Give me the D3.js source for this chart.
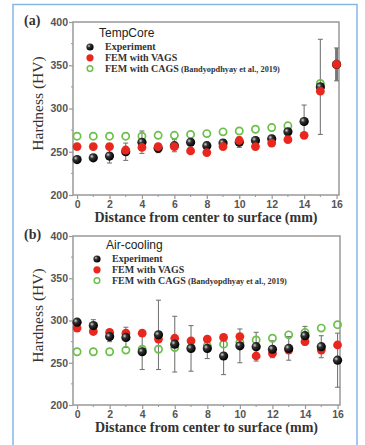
<!DOCTYPE html>
<html>
<head>
<meta charset="utf-8">
<script src="https://cdn.jsdelivr.net/npm/d3@7"></script>
<style>
  body { margin: 0; background: #fff; }
  svg { display: block; }
</style>
</head>
<body>
<svg id="chart" width="365" height="445"></svg>
<script>
// distance from center (mm)
const distance = [0, 1, 2, 3, 4, 5, 6, 7, 8, 9, 10, 11, 12, 13, 14, 15, 16];
const yTicks = [200, 250, 300, 350, 400];
const xTicks = [0, 2, 4, 6, 8, 10, 12, 14, 16];

// (a) TempCore
const tcExperiment = [241, 243, 245, 250, 261, 254, 257, 261, 257, 260, 261, 263, 265, 273, 285, 325, 351];
const tcExpError = [2, 2, 8, 10, 13, 5, 7, 4, 4, 4, 6, 4, 4, 4, 19, 55, 19];
const tcVags = [256, 256, 256, 252, 255, 256, 256, 251, 249, 256, 263, 256, 260, 264, 269, 320, 351];
const tcCags = [268, 268, 268, 268, 268, 269, 269, 270, 271, 273, 274, 276, 278, 280, 285, 329, 351];

// (b) Air-cooling
const acExperiment = [298, 294, 281, 280, 263, 283, 272, 267, 267, 258, 270, 269, 266, 267, 282, 269, 253];
const acExpError = [3, 7, 6, 12, 21, 41, 33, 27, 12, 22, 20, 17, 10, 14, 11, 13, 32];
const acVags = [291, 287, 286, 285, 285, 278, 279, 276, 278, 280, 281, 258, 261, 265, 275, 265, 271];
const acCags = [263, 263, 263, 265, 266, 266, 268, 268, 270, 272, 274, 277, 279, 283, 286, 291, 295];

const legendLabels = ['Experiment', 'FEM with VAGS', 'FEM with CAGS'];

const svg = d3.select('#chart');

// outer frame
svg.append('rect')
  .attr('x', 13).attr('y', 4.5)
  .attr('width', 344).attr('height', 460)
  .attr('fill', 'none')
  .attr('stroke', '#86b6e4')
  .attr('stroke-width', 1.5);

const defs = svg.append('defs');
const grad = defs.append('radialGradient')
  .attr('id', 'ball')
  .attr('cx', '35%').attr('cy', '35%').attr('r', '65%');
grad.append('stop').attr('offset', '0%').attr('stop-color', '#d8d8d8');
grad.append('stop').attr('offset', '35%').attr('stop-color', '#333');
grad.append('stop').attr('offset', '100%').attr('stop-color', '#000');

function drawPanel(opt) {
  const x = d3.scaleLinear().domain([-0.25, 16.15]).range([opt.left, opt.right]);
  const y = d3.scaleLinear().domain([200, 400]).range([opt.bottom, opt.top]);
  const g = svg.append('g');

  // minor ticks
  const minorX = d3.range(1, 17, 2);
  const minorY = [225, 275, 325, 375];
  g.selectAll('.mx').data(minorX).enter().append('line')
    .attr('x1', d => x(d)).attr('x2', d => x(d))
    .attr('y1', opt.bottom).attr('y2', opt.bottom + 2)
    .attr('stroke', '#999').attr('stroke-width', 1);
  g.selectAll('.my').data(minorY).enter().append('line')
    .attr('x1', opt.left).attr('x2', opt.left - 2)
    .attr('y1', d => y(d)).attr('y2', d => y(d))
    .attr('stroke', '#999').attr('stroke-width', 1);

  const xAxis = d3.axisBottom(x).tickValues(xTicks).tickSize(4).tickSizeOuter(0).tickPadding(2);
  const yAxis = d3.axisLeft(y).tickValues(yTicks).tickSize(4).tickSizeOuter(0).tickPadding(1);

  const gx = g.append('g').attr('transform', `translate(0,${opt.bottom})`).call(xAxis);
  const gy = g.append('g').attr('transform', `translate(${opt.left},0)`).call(yAxis);
  [gx, gy].forEach(a => {
    a.select('.domain').remove();
    a.selectAll('line').attr('stroke', '#999').attr('stroke-width', 1.2);
    a.selectAll('text')
      .attr('fill', '#555')
      .style('font-family', 'Arial, "Liberation Sans", sans-serif')
      .style('font-weight', 'bold')
      .style('font-size', '10.5px');
  });

  // plot frame
  g.append('rect')
    .attr('x', opt.left).attr('y', opt.top)
    .attr('width', opt.right - opt.left).attr('height', opt.bottom - opt.top)
    .attr('fill', 'none').attr('stroke', '#999').attr('stroke-width', 1.5);

  // error bars
  const eb = g.append('g');
  distance.forEach((d, i) => {
    const v = opt.exp[i], e = opt.err[i];
    eb.append('line')
      .attr('x1', x(d)).attr('x2', x(d))
      .attr('y1', y(v - e)).attr('y2', y(v + e))
      .attr('stroke', '#777').attr('stroke-width', opt.thick && i === 16 ? 3 : 1.1);
    [v - e, v + e].forEach(c => {
      eb.append('line')
        .attr('x1', x(d) - 2.5).attr('x2', x(d) + 2.5)
        .attr('y1', y(c)).attr('y2', y(c))
        .attr('stroke', '#777').attr('stroke-width', 1.1);
    });
  });

  // CAGS open circles
  g.selectAll('.cags').data(distance).enter().append('circle')
    .attr('cx', d => x(d)).attr('cy', (d, i) => y(opt.cags[i]))
    .attr('r', 3.6).attr('fill', 'none')
    .attr('stroke', '#6cbf4a').attr('stroke-width', 1.7);

  const drawExp = () => g.selectAll('.exp').data(distance).enter().append('circle')
    .attr('cx', d => x(d)).attr('cy', (d, i) => y(opt.exp[i]))
    .attr('r', 4.6).attr('fill', 'url(#ball)');
  const drawVags = () => g.selectAll('.vags').data(distance).enter().append('circle')
    .attr('cx', d => x(d)).attr('cy', (d, i) => y(opt.vags[i]))
    .attr('r', 4.4).attr('fill', '#e8281f');

  if (opt.redOnTop) { drawExp(); drawVags(); } else { drawVags(); drawExp(); }

  // legend
  const lg = g.append('g');
  lg.append('text')
    .attr('x', opt.leg.x + 9).attr('y', opt.leg.y)
    .attr('fill', '#222')
    .style('font-family', 'Arial, "Liberation Sans", sans-serif')
    .style('font-size', '12px')
    .text(opt.title);
  legendLabels.forEach((lab, i) => {
    const ly = opt.leg.y + 13 + i * 10.8;
    if (i === 0) lg.append('circle').attr('cx', opt.leg.x).attr('cy', ly - 3).attr('r', 3.6).attr('fill', 'url(#ball)');
    if (i === 1) lg.append('circle').attr('cx', opt.leg.x).attr('cy', ly - 3).attr('r', 3.6).attr('fill', '#e8281f');
    if (i === 2) lg.append('circle').attr('cx', opt.leg.x).attr('cy', ly - 3).attr('r', 2.8)
      .attr('fill', 'none').attr('stroke', '#6cbf4a').attr('stroke-width', 1.5);
    const t = lg.append('text')
      .attr('x', opt.leg.x + 15).attr('y', ly)
      .attr('fill', '#333')
      .style('font-family', '"Liberation Serif", "DejaVu Serif", serif')
      .style('font-weight', 'bold')
      .style('font-size', '10px')
      .text(lab);
    if (i === 2) {
      t.append('tspan').style('font-size', '8.3px').text(' (Bandyopdhyay et al., 2019)');
    }
  });

  // panel label
  svg.append('text')
    .attr('x', 24).attr('y', opt.top + 3)
    .attr('fill', '#333')
    .style('font-family', '"Liberation Serif", serif')
    .style('font-weight', 'bold')
    .style('font-size', '14px')
    .text(opt.label);

  // axis titles
  svg.append('text')
    .attr('transform', `translate(43,${(opt.top + opt.bottom) / 2 - 5}) rotate(-90)`)
    .attr('text-anchor', 'middle')
    .attr('fill', '#333')
    .style('font-family', '"Liberation Serif", serif')
    .style('font-size', '15.5px')
    .text('Hardness (HV)');
  svg.append('text')
    .attr('x', (opt.left + opt.right) / 2).attr('y', opt.bottom + 27)
    .attr('text-anchor', 'middle')
    .attr('fill', '#333')
    .style('font-family', '"Liberation Serif", serif')
    .style('font-weight', 'bold')
    .style('font-size', '14px')
    .text('Distance from center to surface (mm)');
}

drawPanel({
  label: '(a)', title: 'TempCore',
  left: 73, right: 339, top: 22, bottom: 195,
  exp: tcExperiment, err: tcExpError, vags: tcVags, cags: tcCags,
  leg: { x: 90, y: 37 }, redOnTop: true, thick: true
});
drawPanel({
  label: '(b)', title: 'Air-cooling',
  left: 73, right: 340, top: 236, bottom: 405,
  exp: acExperiment, err: acExpError, vags: acVags, cags: acCags,
  leg: { x: 97, y: 249 }, redOnTop: false, thick: false
});
</script>
</body>
</html>
